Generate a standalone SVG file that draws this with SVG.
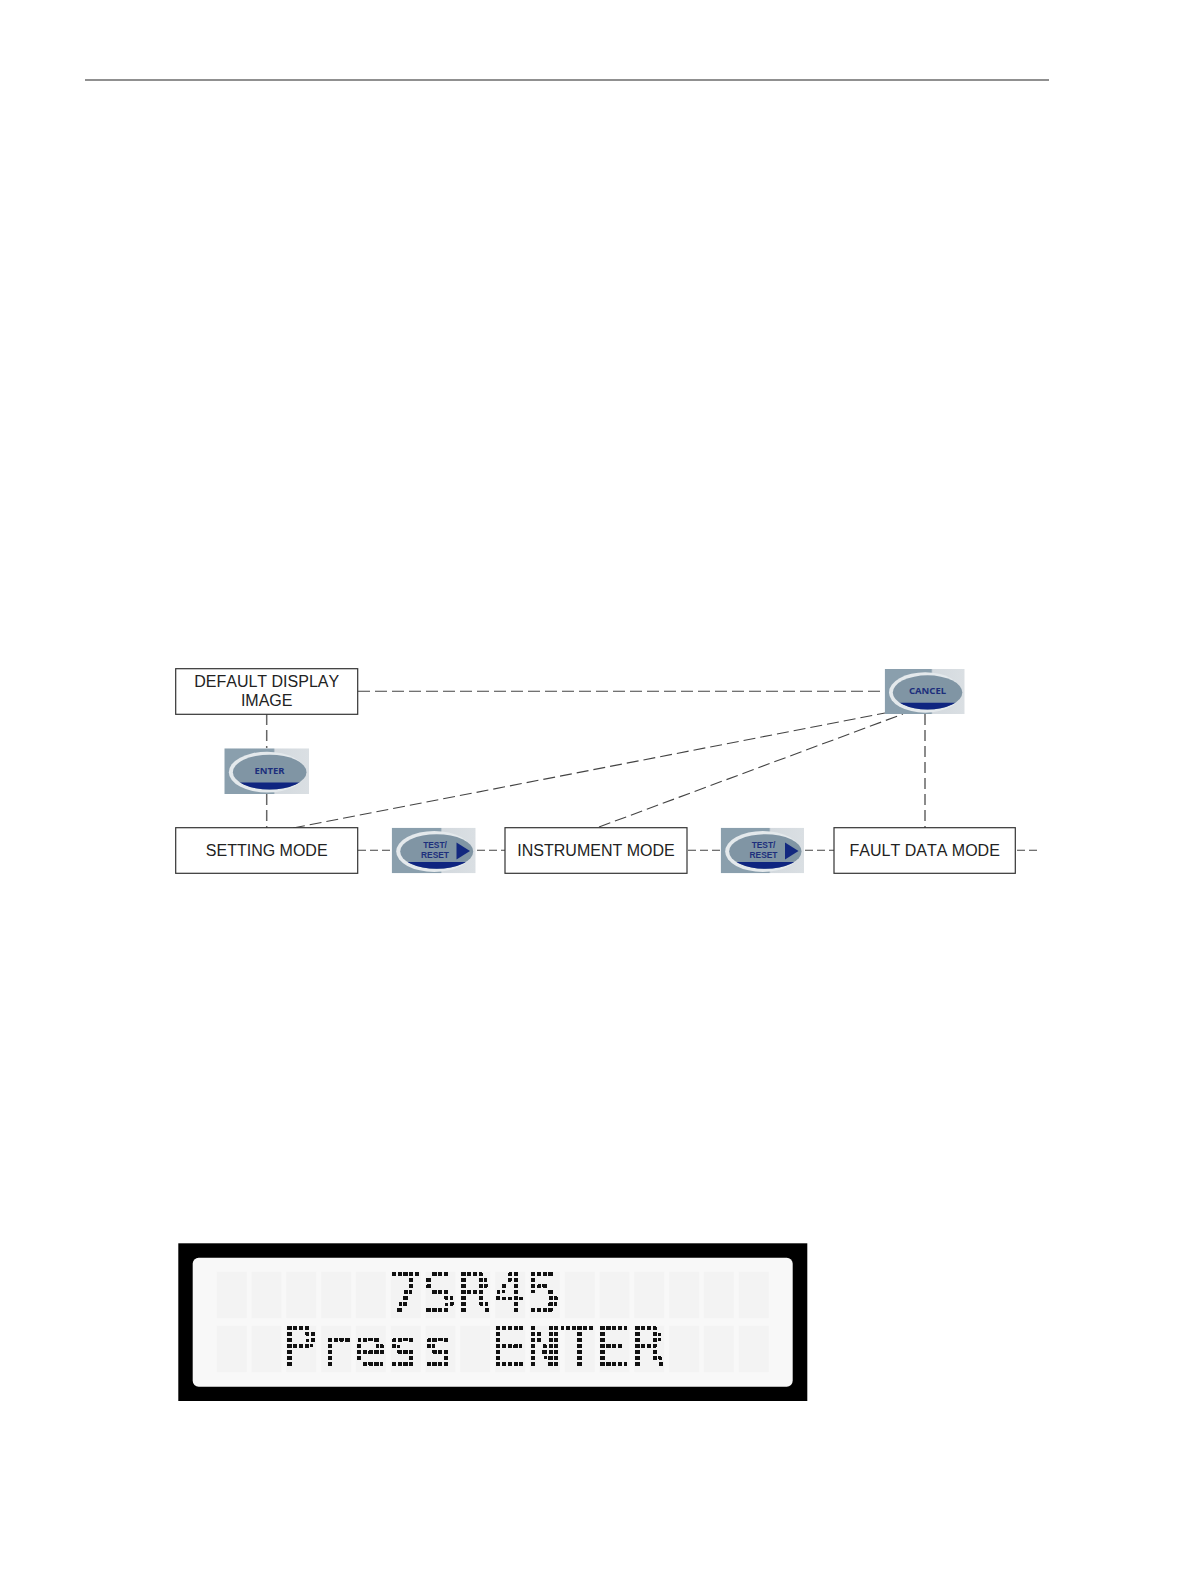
<svg xmlns="http://www.w3.org/2000/svg" width="1191" height="1587" viewBox="0 0 1191 1587">
<style>
.box{fill:#fff;stroke:#333;stroke-width:1.2}
.lbl{font-family:"Liberation Sans",Arial,sans-serif;font-size:16px;fill:#222;text-anchor:middle;font-kerning:none}
.btn{font-family:"Noto Sans","Open Sans",sans-serif;font-weight:700;font-size:9.5px;fill:#1d2f7c;text-anchor:middle}
.btn2{font-family:"Liberation Sans",Arial,sans-serif;font-weight:700;font-size:8.4px;fill:#1d2f7c;text-anchor:middle}
.dash{fill:none;stroke:#444;stroke-width:1.1;stroke-dasharray:12 5}
.short{fill:none;stroke:#444;stroke-width:1.1;stroke-dasharray:8 4}
.dashv{fill:none;stroke:#666;stroke-width:1.5;stroke-dasharray:11 5}
.ghost{fill:#f3f3f3}
.lcd{font-family:"DejaVu Sans Mono",monospace;font-size:56px;fill:url(#dots);stroke:url(#dots);stroke-width:0.6}
</style>
<defs>
<linearGradient id="bg" x1="0" x2="1" y1="0" y2="0">
<stop offset="0" stop-color="#8a9fad"/><stop offset="0.58" stop-color="#8a9fad"/><stop offset="0.6" stop-color="#d3d9de"/><stop offset="1" stop-color="#dadfe3"/>
</linearGradient>
<clipPath id="lower"><rect x="0" y="34.5" width="84" height="12"/></clipPath>
<symbol id="button" viewBox="0 0 84 46" preserveAspectRatio="none">
<rect width="84" height="46" fill="url(#bg)"/>
<ellipse cx="42.5" cy="24" rx="38" ry="20.6" fill="#e4e9ec"/>
<ellipse cx="45" cy="24" rx="36.5" ry="17.5" fill="#8095a4"/>
<ellipse cx="45" cy="24" rx="36.5" ry="17.5" fill="#0f2580" clip-path="url(#lower)"/>
</symbol>
<pattern id="dots" patternUnits="userSpaceOnUse" x="392.7" y="1273" width="5.8" height="6">
<rect width="2.3" height="2.3" fill="#111"/>
</pattern>
<filter id="matrix" filterUnits="userSpaceOnUse" x="190" y="1255" width="610" height="135" color-interpolation-filters="sRGB">
<feComponentTransfer><feFuncA type="discrete" tableValues="0 1"/></feComponentTransfer>
<feMorphology operator="dilate" radius="1"/>
<feGaussianBlur stdDeviation="0.35"/>
</filter>
<rect id="cell" class="ghost" width="30" height="46.5"/>
</defs>

<line x1="85" y1="80" x2="1049" y2="80" stroke="#222" stroke-width="1.2"/>

<g id="connectors">
<path class="dash" d="M358 691.3H882"/>
<path class="dashv" d="M266.7 714V748"/>
<path class="dashv" d="M266.7 794V828"/>
<path class="dash" d="M293 828L885 713"/>
<path class="dash" d="M599 827L903 714"/>
<path class="dashv" d="M925 714V828"/>
<path class="short" d="M358 850.3H390"/>
<path class="short" d="M477 850.3H505"/>
<path class="short" d="M688 850.3H720"/>
<path class="short" d="M805 850.3H834"/>
<path class="short" d="M1017 850.3H1039"/>
</g>

<g id="node-default">
<rect class="box" x="175.7" y="668.7" width="182" height="45.6"/>
<text class="lbl" x="266.7" y="687">DEFAULT DISPLAY</text>
<text class="lbl" x="266.7" y="706">IMAGE</text>
</g>
<g id="node-setting">
<rect class="box" x="175.7" y="827.7" width="182" height="45.6"/>
<text class="lbl" x="266.7" y="856">SETTING MODE</text>
</g>
<g id="node-instrument">
<rect class="box" x="505" y="827.7" width="182" height="45.6"/>
<text class="lbl" x="596" y="856">INSTRUMENT MODE</text>
</g>
<g id="node-fault">
<rect class="box" x="834" y="827.7" width="181.3" height="45.6"/>
<text class="lbl" x="924.7" y="856">FAULT DATA MODE</text>
</g>

<g id="button-enter">
<use href="#button" x="224.3" y="748.3" width="84.7" height="45.7"/>
<text class="btn" x="269.5" y="773.5">ENTER</text>
</g>
<g id="button-cancel">
<use href="#button" x="884.7" y="669" width="80" height="45"/>
<text class="btn" x="927.5" y="693.5">CANCEL</text>
</g>
<g id="button-test1">
<use href="#button" x="391.7" y="827.7" width="84" height="45.6"/>
<text class="btn2"><tspan x="435" y="848">TEST/</tspan><tspan x="435" y="857.8">RESET</tspan></text>
<path d="M456.5 842.5L470 851L456.5 859.5Z" fill="#12287f"/>
</g>
<g id="button-test2">
<use href="#button" x="720.7" y="827.7" width="83.3" height="45.6"/>
<text class="btn2"><tspan x="763.5" y="848">TEST/</tspan><tspan x="763.5" y="857.8">RESET</tspan></text>
<path d="M785 842.5L798.5 851L785 859.5Z" fill="#12287f"/>
</g>

<g id="lcd">
<rect x="178.3" y="1243.3" width="629" height="157.7" fill="#000"/>
<rect x="192.7" y="1257.7" width="600" height="129" rx="6" fill="#f8f8f8"/>
<g id="lcd-cells">
<use href="#cell" x="216.7" y="1271.7"/><use href="#cell" x="251.5" y="1271.7"/><use href="#cell" x="286.3" y="1271.7"/><use href="#cell" x="321.1" y="1271.7"/><use href="#cell" x="355.9" y="1271.7"/><use href="#cell" x="390.7" y="1271.7"/><use href="#cell" x="425.5" y="1271.7"/><use href="#cell" x="460.3" y="1271.7"/><use href="#cell" x="495.1" y="1271.7"/><use href="#cell" x="529.9" y="1271.7"/><use href="#cell" x="564.7" y="1271.7"/><use href="#cell" x="599.5" y="1271.7"/><use href="#cell" x="634.3" y="1271.7"/><use href="#cell" x="669.1" y="1271.7"/><use href="#cell" x="703.9" y="1271.7"/><use href="#cell" x="738.7" y="1271.7"/>
<use href="#cell" x="216.7" y="1325.7"/><use href="#cell" x="251.5" y="1325.7"/><use href="#cell" x="286.3" y="1325.7"/><use href="#cell" x="321.1" y="1325.7"/><use href="#cell" x="355.9" y="1325.7"/><use href="#cell" x="390.7" y="1325.7"/><use href="#cell" x="425.5" y="1325.7"/><use href="#cell" x="460.3" y="1325.7"/><use href="#cell" x="495.1" y="1325.7"/><use href="#cell" x="529.9" y="1325.7"/><use href="#cell" x="564.7" y="1325.7"/><use href="#cell" x="599.5" y="1325.7"/><use href="#cell" x="634.3" y="1325.7"/><use href="#cell" x="669.1" y="1325.7"/><use href="#cell" x="703.9" y="1325.7"/><use href="#cell" x="738.7" y="1325.7"/>
</g>
<text class="lcd" filter="url(#matrix)"><tspan y="1312" x="387.7 422.5 457.3 492.1 526.9">7SR45</tspan><tspan y="1366" x="282.7 317.5 352.3 387.1 421.9 456.7 491.5 526.3 561.1 595.9 630.7">Press ENTER</tspan></text>
</g>
</svg>
